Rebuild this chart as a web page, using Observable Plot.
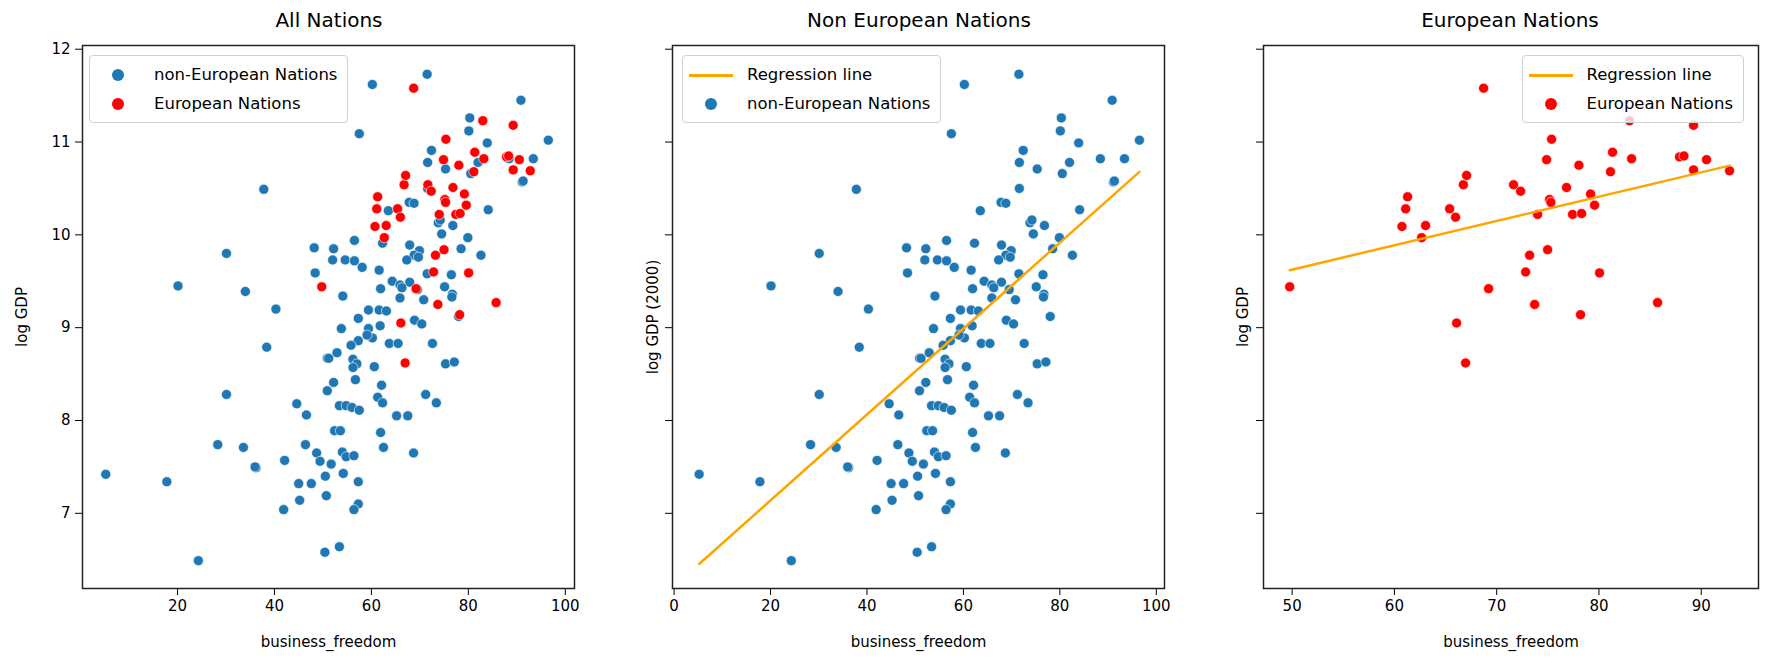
<!DOCTYPE html>
<html>
<head>
<meta charset="utf-8">
<script src="https://cdn.jsdelivr.net/npm/d3@7"></script>
<script src="https://cdn.jsdelivr.net/npm/@observablehq/plot@0.6"></script>
<style>
  body { margin: 0; background: #fff; font-family: "DejaVu Sans", sans-serif; }
  #wrap { position: relative; width: 1772px; height: 664px; }
  .panel { position: absolute; top: 0; }
  .title { position: absolute; top: 8px; font-size: 20px; text-align: center; color: #000; }
  .legend { position: absolute; border: 1.5px solid #d0d0d0; border-radius: 4px; background: rgba(255,255,255,0.8);
            font-size: 16.5px; padding: 4px 10px 4px 6px; line-height: 29px; }
  .legend div { display: flex; align-items: center; white-space: nowrap; }
  .sw { width: 44px; height: 14px; margin-right: 14px; position: relative; }
  .sw.line::after { content: ""; position: absolute; left: 0; right: 0; top: 6px; height: 3px; background: orange; }
  .sw.dot::after { content: ""; position: absolute; left: 16px; top: 1px; width: 12px; height: 12px; border-radius: 50%; }
  .sw.blue::after { background: #1f77b4; }
  .sw.red::after { background: red; }
</style>
</head>
<body>
<div id="wrap"></div>
<script>
// non-European nations: business_freedom, log GDP
const nonEuroFreedom = [
  37.8, 30.1, 48.2, 20.1, 34.0, 48.4, 40.3,
  71.5, 60.2, 57.5, 90.85, 80.3, 80.1, 83.9, 72.4, 71.6, 75.3, 82.0, 80.5, 88.4, 93.4, 96.5, 91.1, 91.3,
  71.6, 67.8, 68.8, 63.5, 84.1, 73.8, 74.2, 76.8, 74.5, 79.9, 78.5, 82.6, 52.2, 56.5, 62.3, 67.9, 69.9,
  68.8, 69.7, 67.3, 52.0, 54.6, 56.5, 58.1, 61.6, 71.5, 76.5, 64.3, 67.9, 65.9, 66.3, 61.9, 75.1, 69.5,
  76.7, 76.6, 54.1, 65.9, 70.8, 59.4, 61.6, 63.1, 57.3, 68.9, 78.0,
  38.4, 50.9, 50.9, 30.1, 44.6, 46.6, 28.3, 33.6, 46.4, 48.7, 49.4, 42.1, 36.2, 36.0, 5.2, 17.8, 45.0,
  47.6, 50.5, 45.2, 50.7, 41.9, 24.3, 50.4,
  70.4, 53.8, 59.4, 61.8, 60.2, 59.1, 57.3, 55.8, 63.7, 65.5, 72.6, 51.2, 52.9, 56.2, 57.0, 56.2, 60.6,
  75.3, 77.1, 56.7, 52.2, 62.1, 71.2, 73.4, 61.3, 62.3, 53.4, 54.8, 56.0, 57.5, 65.2, 67.5, 52.4, 53.6,
  61.9, 62.5, 68.7, 54.0, 54.8, 56.4, 51.7, 54.2, 57.3, 57.3, 56.4, 53.4
];
const nonEuroGdp = [
  10.49, 9.80, 9.86, 9.45, 9.39, 9.59, 9.20,
  11.73, 11.62, 11.09, 11.45, 11.26, 11.12, 10.99, 10.91, 10.78, 10.71, 10.78, 10.66, 10.82, 10.82, 11.02, 10.57, 10.58,
  10.50, 10.35, 10.34, 10.26, 10.27, 10.13, 10.16, 10.10, 10.01, 9.97, 9.85, 9.78, 9.85, 9.94, 9.91, 9.89, 9.83,
  9.78, 9.76, 9.73, 9.73, 9.73, 9.72, 9.65, 9.62, 9.58, 9.57, 9.50, 9.49, 9.46, 9.43, 9.42, 9.44, 9.41,
  9.36, 9.33, 9.34, 9.32, 9.30, 9.19, 9.19, 9.18, 9.10, 9.08, 9.12,
  8.79, 8.67, 8.32, 8.28, 8.18, 8.06, 7.74, 7.71, 7.74, 7.65, 7.56, 7.57, 7.49, 7.50, 7.42, 7.34, 7.32,
  7.32, 7.40, 7.14, 7.19, 7.04, 6.49, 6.58,
  9.04, 8.99, 8.99, 9.02, 8.89, 8.92, 8.86, 8.81, 8.83, 8.83, 8.83, 8.67, 8.73, 8.66, 8.61, 8.57, 8.58,
  8.61, 8.63, 8.44, 8.41, 8.38, 8.28, 8.19, 8.25, 8.19, 8.16, 8.16, 8.14, 8.11, 8.05, 8.05, 7.89, 7.89,
  7.87, 7.71, 7.65, 7.66, 7.61, 7.62, 7.53, 7.43, 7.34, 7.10, 7.04, 6.64
];

// European nations
const euroFreedom = [
  49.76, 60.74, 61.10, 61.29, 62.66, 63.05, 65.40, 65.98, 66.74, 67.06, 66.08, 66.96, 68.72, 69.21,
  71.65, 72.34, 72.83, 73.22, 73.71, 74.0, 74.88, 75.37, 74.98, 75.17, 75.3, 76.83, 77.42, 78.3,
  78.2, 78.04, 79.18, 79.57, 80.06, 81.13, 81.33, 82.99, 83.19, 85.73, 87.88, 88.31, 89.25, 89.25,
  90.52, 92.77
];
const euroGdp = [
  9.44, 10.09, 10.28, 10.41, 9.97, 10.10, 10.28, 10.19, 10.54, 10.64, 9.05, 8.62, 11.58, 9.42,
  10.54, 10.47, 9.60, 9.78, 9.25, 10.22, 10.81, 11.03, 9.84, 10.38, 10.35, 10.51, 10.22, 10.23,
  9.14, 10.75, 10.44, 10.32, 9.59, 10.68, 10.89, 11.23, 10.82, 9.27, 10.84, 10.85, 11.18, 10.70,
  10.81, 10.69
];

const nonEuro = nonEuroFreedom.map((f, i) => ({business_freedom: f, gdp: nonEuroGdp[i]}));
const euro = euroFreedom.map((f, i) => ({business_freedom: f, gdp: euroGdp[i]}));

const blue = "#1f77b4";
const yDomain = [6.19, 12.04];
const H = 664, mTop = 45, mBottom = 76;
const style = {fontFamily: "DejaVu Sans, sans-serif", fontSize: "15px", color: "#000", background: "#fff"};

function dots(data, fill) {
  return Plot.dot(data, {x: "business_freedom", y: "gdp", r: 5, fill: fill, stroke: "white", strokeWidth: 0.6});
}

function panel({width, ml, mr, xDomain, xTicks, yLabel, yLabelOffset, showY, marks}) {
  return Plot.plot({
    width: width, height: H,
    marginLeft: ml, marginRight: mr, marginTop: mTop, marginBottom: mBottom,
    x: {domain: xDomain}, y: {domain: yDomain},
    style: style,
    marks: [
      ...marks,
      Plot.axisX({ticks: xTicks, tickSize: 7, tickPadding: 5, label: "business_freedom", labelAnchor: "center",
                  labelArrow: "none", labelOffset: 58, fontSize: 15}),
      Plot.axisY({ticks: [7, 8, 9, 10, 11, 12], tickSize: 7, tickPadding: 5, tickFormat: showY ? d => d : () => "",
                  label: yLabel, labelAnchor: "center", labelArrow: "none", labelOffset: yLabelOffset}),
      Plot.frame({stroke: "#222", strokeWidth: 1.5})
    ]
  });
}

const p1 = panel({width: 582, ml: 82, mr: 8, xDomain: [0.4, 101.9], xTicks: [20, 40, 60, 80, 100],
  yLabel: "log GDP", yLabelOffset: 66, showY: true,
  marks: [dots(nonEuro, blue), dots(euro, "red")]});
const p2 = panel({width: 590, ml: 90, mr: 8, xDomain: [-0.33, 101.7], xTicks: [0, 20, 40, 60, 80, 100],
  yLabel: "log GDP (2000)", yLabelOffset: 25, showY: false,
  marks: [dots(nonEuro, blue),
    Plot.linearRegressionY(nonEuro, {x: "business_freedom", y: "gdp", stroke: "orange", strokeWidth: 2.5, ci: 0})]});
const p3 = panel({width: 600, ml: 91, mr: 14, xDomain: [47.2, 95.6], xTicks: [50, 60, 70, 80, 90],
  yLabel: "log GDP", yLabelOffset: 26, showY: false,
  marks: [dots(euro, "red"),
    Plot.linearRegressionY(euro, {x: "business_freedom", y: "gdp", stroke: "orange", strokeWidth: 2.5, ci: 0})]});

const wrap = d3.select("#wrap");
[[p1, 0], [p2, 582], [p3, 1172]].forEach(([p, left]) => {
  wrap.append("div").attr("class", "panel").style("left", left + "px").append(() => p);
});

// titles
[["All Nations", 82], ["Non European Nations", 672], ["European Nations", 1263]].forEach(([t, l]) => {
  wrap.append("div").attr("class", "title").style("left", l + "px").style("width", "494px").text(t);
});

// legends
function legend(left, topPx, items, alignRight) {
  const lg = wrap.append("div").attr("class", "legend").style("top", topPx + "px");
  if (alignRight) lg.style("right", left + "px"); else lg.style("left", left + "px");
  items.forEach(([kind, label]) => {
    const row = lg.append("div");
    row.append("span").attr("class", "sw " + kind);
    row.append("span").text(label);
  });
}
legend(89, 55, [["dot blue", "non-European Nations"], ["dot red", "European Nations"]]);
legend(682, 55, [["line", "Regression line"], ["dot blue", "non-European Nations"]]);
legend(28, 55, [["line", "Regression line"], ["dot red", "European Nations"]], true);
</script>
</body>
</html>
